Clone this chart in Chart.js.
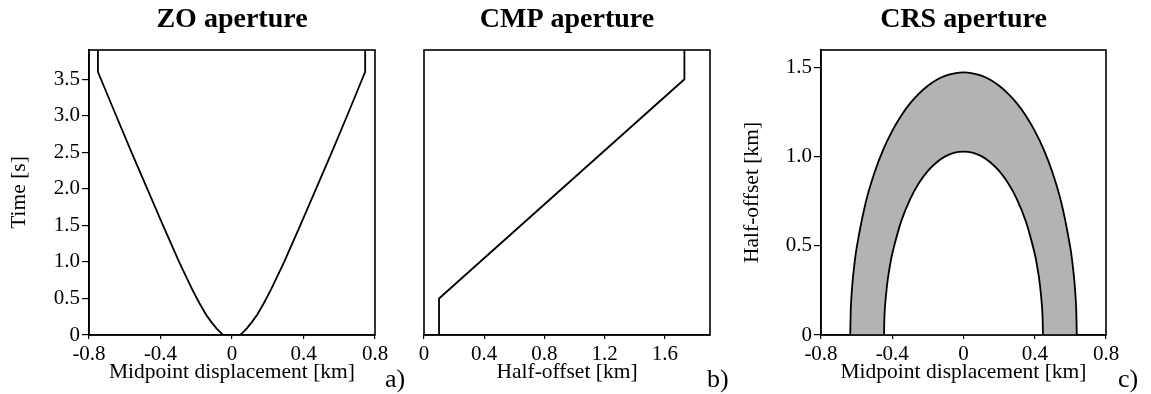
<!DOCTYPE html>
<html>
<head>
<meta charset="utf-8">
<script src="https://cdn.jsdelivr.net/npm/chart.js@4"></script>
<style>
  body { margin: 0; background: #fff; }
  #wrap { position: relative; width: 1151px; height: 394px; overflow: hidden; }
  canvas { position: absolute; top: 0; }
  .tag { position: absolute; font-family: 'Liberation Serif', 'Times New Roman', serif; font-size: 26px; line-height: 26px; color: #000; }
</style>
</head>
<body>
<div id="wrap">
  <canvas id="zo" width="400" height="394" style="left:0"></canvas>
  <canvas id="cmp" width="340" height="394" style="left:400px"></canvas>
  <canvas id="crs" width="421" height="394" style="left:730px"></canvas>
  <div class="tag" style="left:385px;top:366px">a)</div>
  <div class="tag" style="left:707px;top:366px">b)</div>
  <div class="tag" style="left:1118px;top:366px">c)</div>
</div>
<script>
// ZO aperture: midpoint displacement [km] vs time [s]
const zoTime = [3.9, 3.6, 3.5, 3.0, 2.5, 2.0, 1.5, 1.0, 0.62, 0.435, 0.275, 0.18, 0.09, 0.02, 0];
const zoLeft = [-0.75, -0.75, -0.733, -0.648, -0.562, -0.474, -0.386, -0.296, -0.222, -0.182, -0.144, -0.116, -0.087, -0.058, -0.05];
const zoRight = [0.745, 0.745, 0.728, 0.644, 0.558, 0.47, 0.382, 0.292, 0.218, 0.178, 0.14, 0.112, 0.083, 0.054, 0.046];

// CMP aperture: half-offset [km] vs time [s]
const cmpOffset = [0.1, 0.1, 1.73, 1.73];
const cmpTime = [0, 0.5, 3.5, 3.9];

// CRS aperture: midpoint displacement vs half-offset, outer and inner boundary
const crsOuterX = [-0.636, -0.633, -0.63, -0.62, -0.60, -0.55, -0.50, -0.45, -0.40, -0.35, -0.30, -0.25, -0.20, -0.15, -0.10, -0.05, 0,
  0.05, 0.10, 0.15, 0.20, 0.25, 0.30, 0.35, 0.40, 0.45, 0.50, 0.55, 0.60, 0.62, 0.63, 0.633, 0.636];
const crsOuterY = [0, 0.14, 0.202, 0.329, 0.489, 0.740, 0.911, 1.042, 1.146, 1.231, 1.300, 1.355, 1.399, 1.433, 1.456, 1.469, 1.474,
  1.469, 1.456, 1.433, 1.399, 1.355, 1.300, 1.231, 1.146, 1.042, 0.911, 0.740, 0.489, 0.329, 0.202, 0.14, 0];
const crsInnerX = [-0.446, -0.444, -0.44, -0.43, -0.42, -0.40, -0.35, -0.30, -0.25, -0.20, -0.15, -0.10, -0.05, 0,
  0.05, 0.10, 0.15, 0.20, 0.25, 0.30, 0.35, 0.40, 0.42, 0.43, 0.44, 0.444, 0.446];
const crsInnerY = [0, 0.098, 0.169, 0.273, 0.347, 0.456, 0.638, 0.762, 0.853, 0.921, 0.970, 1.004, 1.024, 1.03,
  1.024, 1.004, 0.970, 0.921, 0.853, 0.762, 0.638, 0.456, 0.347, 0.273, 0.169, 0.098, 0];

const serif = "'Liberation Serif', 'Times New Roman', serif";
Chart.defaults.font.family = serif;
Chart.defaults.color = '#000';

const pts = (xs, ys) => xs.map((x, i) => ({ x, y: ys[i] }));
const fmt = v => Math.abs(v) < 1e-9 ? '0' : v.toFixed(1);

const frame = {
  id: 'frame',
  afterDatasetsDraw(chart) {
    const { ctx, chartArea: a } = chart;
    ctx.save();
    ctx.strokeStyle = '#000';
    ctx.lineWidth = 1.6;
    ctx.strokeRect(a.left, a.top, a.right - a.left, a.bottom - a.top);
    ctx.restore();
  }
};

function xAxis(min, max, title) {
  return {
    type: 'linear', min, max,
    ticks: { stepSize: 0.4, includeBounds: false, padding: 3, font: { size: 21 }, callback: fmt, maxRotation: 0 },
    grid: { drawOnChartArea: false, tickLength: 4, color: '#000', lineWidth: 1.2 },
    border: { color: '#000', width: 1.6 },
    title: { display: true, text: title, font: { size: 21.5 }, padding: { top: 0, bottom: 9 } },
    afterFit: s => { s.height = 59; }
  };
}

function yAxis(max, step, title, width, pad) {
  return {
    type: 'linear', min: 0, max,
    ticks: { stepSize: step, includeBounds: false, padding: 2, font: { size: 21 }, callback: fmt },
    grid: { drawOnChartArea: false, tickLength: 7, color: '#000', lineWidth: 1.2 },
    border: { color: '#000', width: 1.6 },
    title: { display: true, text: title, font: { size: 21.5 }, padding: { top: pad } },
    afterFit: s => { s.width = width; }
  };
}

function plugins(title) {
  return {
    legend: { display: false },
    tooltip: { enabled: false },
    title: {
      display: true, text: title, fullSize: false,
      font: { size: 28, weight: 'bold' },
      padding: { top: 3, bottom: 13.4 }
    }
  };
}

const line = { showLine: true, pointRadius: 0, borderColor: '#000', borderWidth: 1.8, tension: 0 };

new Chart(document.getElementById('zo'), {
  type: 'scatter',
  data: {
    datasets: [
      { ...line, data: pts(zoLeft, zoTime) },
      { ...line, data: pts(zoRight, zoTime) }
    ]
  },
  options: {
    responsive: false, animation: false,
    layout: { padding: { left: 0, right: 25, top: 0, bottom: 0 } },
    plugins: plugins('ZO aperture'),
    scales: {
      x: xAxis(-0.8, 0.8, 'Midpoint displacement [km]'),
      y: yAxis(3.9, 0.5, 'Time [s]', 89, 6.5)
    }
  },
  plugins: [frame]
});

new Chart(document.getElementById('cmp'), {
  type: 'scatter',
  data: { datasets: [{ ...line, data: pts(cmpOffset, cmpTime) }] },
  options: {
    responsive: false, animation: false,
    layout: { padding: { left: 24, right: 30, top: 0, bottom: 0 } },
    plugins: plugins('CMP aperture'),
    scales: {
      x: xAxis(0, 1.9, 'Half-offset [km]'),
      y: { type: 'linear', min: 0, max: 3.9, display: false }
    }
  },
  plugins: [frame]
});

new Chart(document.getElementById('crs'), {
  type: 'scatter',
  data: {
    datasets: [
      { ...line, tension: 0.3, order: 1, fill: 'origin', backgroundColor: '#fff', data: pts(crsInnerX, crsInnerY) },
      { ...line, tension: 0.3, order: 2, fill: 'origin', backgroundColor: '#b3b3b3', data: pts(crsOuterX, crsOuterY) }
    ]
  },
  options: {
    responsive: false, animation: false,
    layout: { padding: { left: 0, right: 45, top: 0, bottom: 0 } },
    plugins: plugins('CRS aperture'),
    scales: {
      x: xAxis(-0.8, 0.8, 'Midpoint displacement [km]'),
      y: yAxis(1.6, 0.5, 'Half-offset [km]', 91, 9.5)
    }
  },
  plugins: [frame]
});
</script>
</body>
</html>
